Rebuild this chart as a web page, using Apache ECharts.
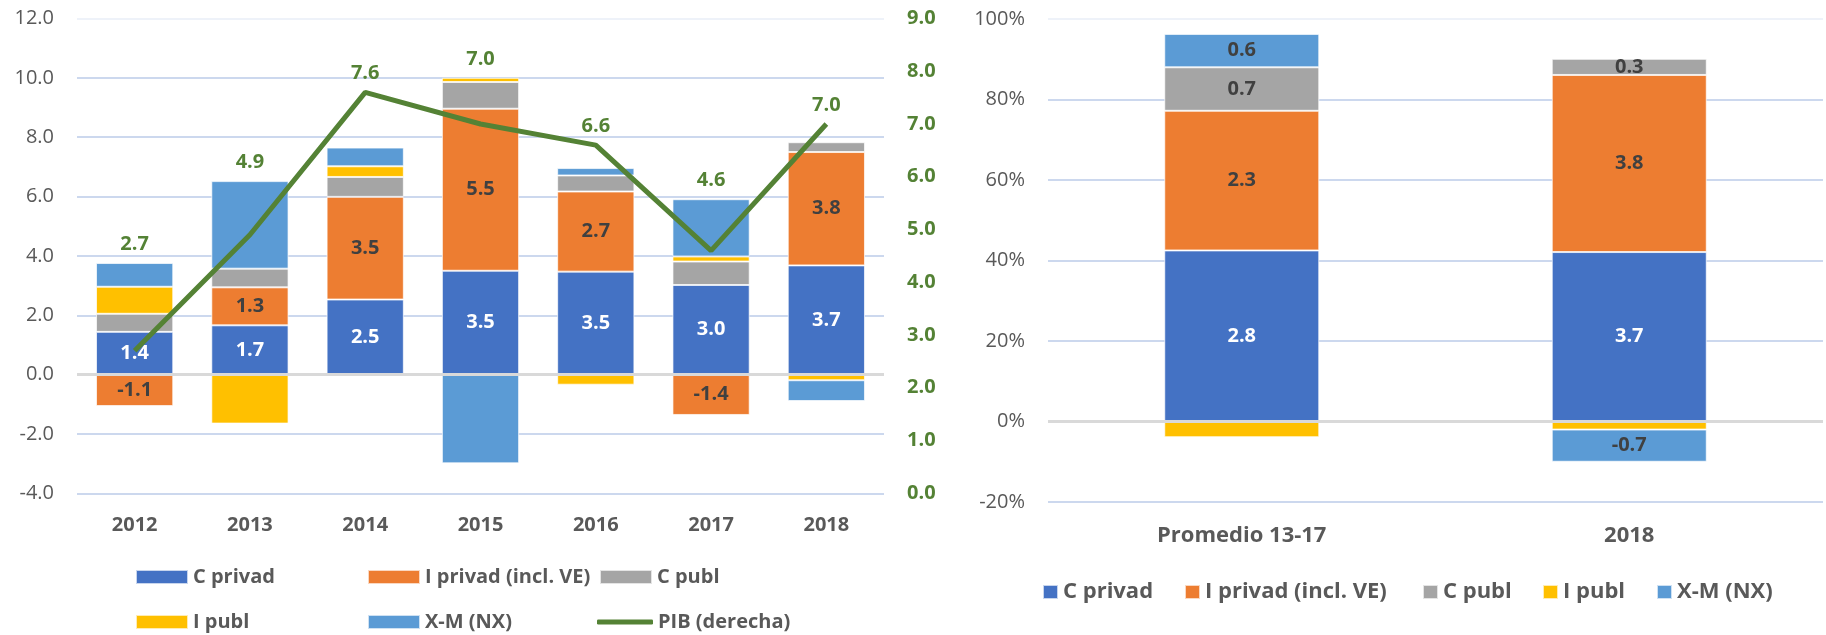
<!DOCTYPE html>
<html>
<head>
<meta charset="utf-8">
<script src="https://cdn.jsdelivr.net/npm/echarts@6/dist/echarts.min.js"></script>
<style>html,body{margin:0;padding:0;background:#fff}#c{width:1826px;height:635px}</style>
</head>
<body>
<div id="c"></div>
<script>
// ---- Left chart data (contributions, pp) ----
const categories = ['2012', '2013', '2014', '2015', '2016', '2017', '2018'];
const cPrivad = [1.44, 1.66, 2.53, 3.50, 3.47, 3.02, 3.68];
const iPrivad = [-1.06, 1.28, 3.46, 5.46, 2.70, -1.36, 3.82];
const cPubl = [0.61, 0.63, 0.67, 0.90, 0.54, 0.79, 0.33];
const iPubl = [0.91, -1.65, 0.36, 0.14, -0.34, 0.17, -0.19];
const nx = [0.80, 2.95, 0.63, -2.99, 0.25, 1.93, -0.70];
const pib = [2.7, 4.9, 7.6, 7.0, 6.6, 4.6, 7.0];
const leftTicks = [-4, 12, 2];   // min, max, interval
const rightTicks = [0, 9, 1];

// ---- Right chart data (shares, %) and their value labels ----
const rCategories = ['Promedio 13-17', '2018'];
const rCPrivad = [42.5, 42.1];
const rIPrivad = [34.7, 44.0];
const rCPubl = [10.8, 4.0];
const rIPubl = [-3.9, -2.0];
const rNx = [8.3, -8.0];
const rCPrivadLbl = ['2.8', '3.7'];
const rIPrivadLbl = ['2.3', '3.8'];
const rCPublLbl = ['0.7', '0.3'];
const rNxLbl = ['0.6', '-0.7'];
const rTicks = [-20, 100, 20];

const FONT = '"Open Sans", "Liberation Sans", sans-serif';
const COL = {cp:'#4472C4', ip:'#ED7D31', cg:'#A5A5A5', ig:'#FFC000', nx:'#5B9BD5', pib:'#548235'};
const TXT = '#595959', DARK = '#404040';
const GRID_BLUE = '#CCD8EE', ZERO = '#D9D9D9', TOP_FAINT = '#EEF2F9';

// anchor for PIB labels: above the higher of the positive stack or the line point
const posTop = categories.map((c, i) => [cPrivad, iPrivad, cPubl, iPubl, nx].reduce((s, a) => s + Math.max(0, a[i]), 0));
const pibOnLeft = pib.map(v => leftTicks[0] + (v - rightTicks[0]) * (leftTicks[1] - leftTicks[0]) / (rightTicks[1] - rightTicks[0]));
const pibAnchor = categories.map((c, i) => [i, Math.max(posTop[i], pibOnLeft[i])]);

function splitColors(min, max, step) {
  const arr = [];
  for (let v = min; v <= max + 1e-9; v += step) arr.push(Math.abs(v) < 1e-9 ? ZERO : (Math.abs(v - max) < 1e-9 ? TOP_FAINT : GRID_BLUE));
  return arr;
}

const barBase = {type:'bar', stack:'s', barWidth:'67%', itemStyle:{borderColor:'rgba(255,255,255,0.7)', borderWidth:1}};
const lblBase = {show:true, position:'inside', fontFamily:FONT, fontWeight:'bold', fontSize:20};

function lbl(color, fmt) { return Object.assign({}, lblBase, {color:color, formatter:fmt}); }

const legendText = (size) => ({fontFamily:FONT, fontWeight:'bold', fontSize:size, color:TXT});
function leg(name, left, top, w, h, size, icon) {
  return {data:[name], left:left, top:top, itemWidth:w, itemHeight:h, itemGap:0, padding:0, selectedMode:false, textStyle:legendText(size), icon: icon || 'rect'};
}

const option = {
  animation:false,
  textStyle:{fontFamily:FONT},
  grid:[
    {left:77, right:942, top:18.5, bottom:141.7},
    {left:1048, right:3, top:19, bottom:133}
  ],
  xAxis:[
    {type:'category', gridIndex:0, data:categories, axisLine:{show:false}, axisTick:{show:false},
     axisLabel:{margin:22, fontFamily:FONT, fontWeight:'bold', fontSize:20, color:TXT}},
    {type:'category', gridIndex:1, data:rCategories, axisLine:{show:false}, axisTick:{show:false},
     axisLabel:{margin:23, fontFamily:FONT, fontWeight:'bold', fontSize:22, color:TXT}}
  ],
  yAxis:[
    {type:'value', gridIndex:0, min:leftTicks[0], max:leftTicks[1], interval:leftTicks[2],
     axisLine:{show:false}, axisTick:{show:false},
     axisLabel:{margin:23, fontFamily:FONT, fontSize:20, color:TXT, formatter:v => v.toFixed(1)},
     splitLine:{lineStyle:{color:splitColors(leftTicks[0], leftTicks[1], leftTicks[2]), width:2}}},
    {type:'value', gridIndex:0, position:'right', min:rightTicks[0], max:rightTicks[1], interval:rightTicks[2],
     axisLine:{show:false}, axisTick:{show:false}, splitLine:{show:false},
     axisLabel:{margin:23, fontFamily:FONT, fontWeight:'bold', fontSize:20, color:COL.pib, formatter:v => v.toFixed(1)}},
    {type:'value', gridIndex:1, min:rTicks[0], max:rTicks[1], interval:rTicks[2],
     axisLine:{show:false}, axisTick:{show:false},
     axisLabel:{margin:23, fontFamily:FONT, fontSize:20, color:TXT, formatter:'{value}%'},
     splitLine:{lineStyle:{color:splitColors(rTicks[0], rTicks[1], rTicks[2]), width:2}}}
  ],
  legend:[
    leg('C privad', 135, 567, 52, 14, 20),
    leg('I privad (incl. VE)', 367, 567, 52, 14, 20),
    leg('C publ', 599, 567, 52, 14, 20),
    leg('I publ', 135, 612, 52, 14, 20),
    leg('X-M (NX)', 367, 612, 52, 14, 20),
    leg('PIB (derecha)', 597, 612, 56, 5, 20, 'roundRect'),
    leg('C privad', 1042, 581, 15, 14, 22),
    leg('I privad (incl. VE)', 1184, 581, 15, 14, 22),
    leg('C publ', 1422, 581, 15, 14, 22),
    leg('I publ', 1542, 581, 15, 14, 22),
    leg('X-M (NX)', 1656, 581, 15, 14, 22)
  ],
  series:[
    Object.assign({}, barBase, {name:'C privad', xAxisIndex:0, yAxisIndex:0, data:cPrivad, itemStyle:Object.assign({}, barBase.itemStyle, {color:COL.cp}),
      label:lbl('#fff', p => p.value.toFixed(1)),
      markLine:{silent:true, symbol:'none', label:{show:false}, lineStyle:{color:ZERO, width:3, type:'solid'}, data:[{yAxis:0}]}}),
    Object.assign({}, barBase, {name:'I privad (incl. VE)', xAxisIndex:0, yAxisIndex:0, data:iPrivad, itemStyle:Object.assign({}, barBase.itemStyle, {color:COL.ip}),
      label:lbl(DARK, p => p.value.toFixed(1))}),
    Object.assign({}, barBase, {name:'C publ', xAxisIndex:0, yAxisIndex:0, data:cPubl, itemStyle:Object.assign({}, barBase.itemStyle, {color:COL.cg})}),
    Object.assign({}, barBase, {name:'I publ', xAxisIndex:0, yAxisIndex:0, data:iPubl, itemStyle:Object.assign({}, barBase.itemStyle, {color:COL.ig})}),
    Object.assign({}, barBase, {name:'X-M (NX)', xAxisIndex:0, yAxisIndex:0, data:nx, itemStyle:Object.assign({}, barBase.itemStyle, {color:COL.nx})}),
    {name:'PIB (derecha)', type:'line', xAxisIndex:0, yAxisIndex:1, data:pib, symbol:'none', showSymbol:false, z:5,
     lineStyle:{color:COL.pib, width:5}, itemStyle:{color:COL.pib}},
    {name:'pibLabel', type:'scatter', xAxisIndex:0, yAxisIndex:0, data:pibAnchor, symbol:'rect', symbolSize:2,
     itemStyle:{color:'rgba(255,255,255,0)', opacity:1}, silent:true, z:6,
     label:{show:true, position:'top', distance:8, fontFamily:FONT, fontWeight:'bold', fontSize:20, color:COL.pib, opacity:1,
            formatter:p => pib[p.dataIndex].toFixed(1)}},

    Object.assign({}, barBase, {name:'C privad', stack:'r', barWidth:'40%', xAxisIndex:1, yAxisIndex:2, data:rCPrivad, itemStyle:Object.assign({}, barBase.itemStyle, {color:COL.cp}),
      label:lbl('#fff', p => rCPrivadLbl[p.dataIndex]),
      markLine:{silent:true, symbol:'none', label:{show:false}, lineStyle:{color:ZERO, width:3, type:'solid'}, data:[{yAxis:0}]}}),
    Object.assign({}, barBase, {name:'I privad (incl. VE)', stack:'r', barWidth:'40%', xAxisIndex:1, yAxisIndex:2, data:rIPrivad, itemStyle:Object.assign({}, barBase.itemStyle, {color:COL.ip}),
      label:lbl(DARK, p => rIPrivadLbl[p.dataIndex])}),
    Object.assign({}, barBase, {name:'C publ', stack:'r', barWidth:'40%', xAxisIndex:1, yAxisIndex:2, data:rCPubl, itemStyle:Object.assign({}, barBase.itemStyle, {color:COL.cg}),
      label:lbl(DARK, p => rCPublLbl[p.dataIndex])}),
    Object.assign({}, barBase, {name:'I publ', stack:'r', barWidth:'40%', xAxisIndex:1, yAxisIndex:2, data:rIPubl, itemStyle:Object.assign({}, barBase.itemStyle, {color:COL.ig})}),
    Object.assign({}, barBase, {name:'X-M (NX)', stack:'r', barWidth:'40%', xAxisIndex:1, yAxisIndex:2, data:rNx, itemStyle:Object.assign({}, barBase.itemStyle, {color:COL.nx}),
      label:lbl(DARK, p => rNxLbl[p.dataIndex])})
  ]
};

const chart = echarts.init(document.getElementById('c'), null, {renderer:'canvas'});
chart.setOption(option);
</script>
</body>
</html>
